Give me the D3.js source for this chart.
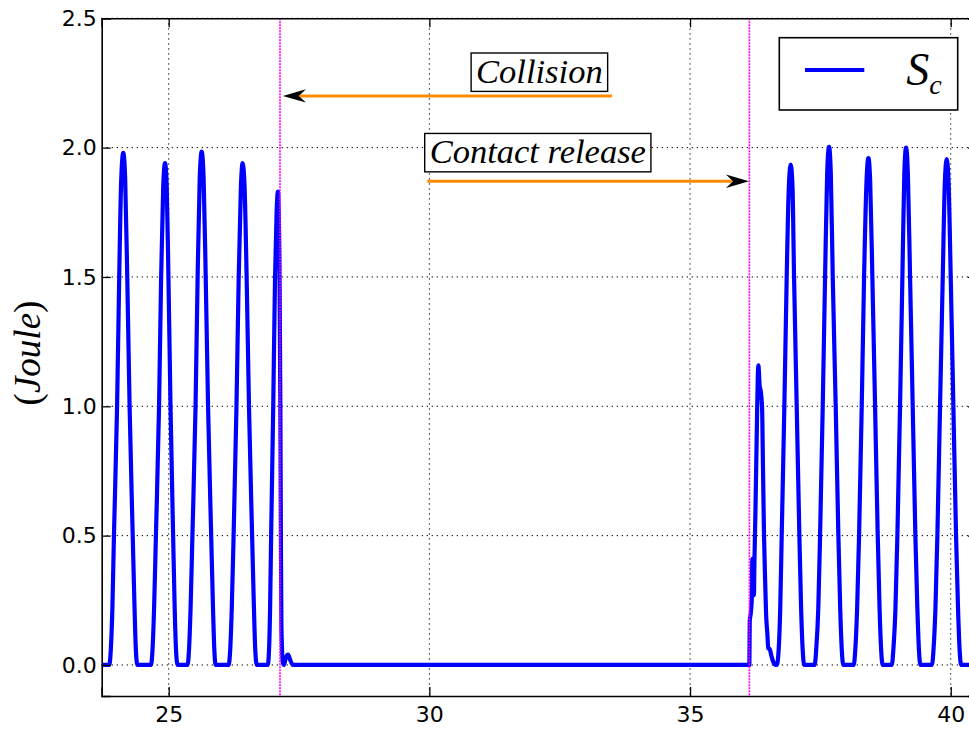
<!DOCTYPE html>
<html>
<head>
<meta charset="utf-8">
<script src="https://cdn.jsdelivr.net/npm/d3@7"></script>
<style>
  body { margin: 0; background: #fff; }
  svg { display: block; }
</style>
</head>
<body>
<div class="chart_view"></div>
<script>
// axis ticks
var xTicks = [25, 30, 35, 40];
var yTicks = [0, 0.5, 1.0, 1.5, 2.0, 2.5];

// time of collision and of contact release (magenta markers)
var eventTimes = [27.135, 36.138];

// S_c energy, [time, joule]
var beforeCollision = [
  [23.715, 0], [23.86, 0], [23.89, 0.06], [23.92, 0.22], [23.95, 0.5], [24.01, 1.0], [24.051, 1.5], [24.09, 1.88],
  [24.129, 1.98], [24.165, 1.88], [24.205, 1.5], [24.25, 1.0], [24.31, 0.5], [24.345, 0.22], [24.37, 0.06], [24.40, 0],
  [24.66, 0], [24.69, 0.06], [24.72, 0.22], [24.755, 0.5], [24.815, 1.0], [24.855, 1.5], [24.895, 1.85],
  [24.93, 1.94], [24.962, 1.85], [24.995, 1.5], [25.035, 1.0], [25.085, 0.5], [25.115, 0.22], [25.14, 0.06], [25.17, 0],
  [25.36, 0], [25.39, 0.06], [25.42, 0.22], [25.455, 0.5], [25.515, 1.0], [25.555, 1.5], [25.595, 1.88],
  [25.633, 1.985], [25.67, 1.88], [25.71, 1.5], [25.755, 1.0], [25.815, 0.5], [25.85, 0.22], [25.875, 0.06], [25.90, 0],
  [26.15, 0], [26.18, 0.06], [26.21, 0.22], [26.245, 0.5], [26.30, 1.0], [26.343, 1.5], [26.385, 1.85],
  [26.419, 1.94], [26.455, 1.85], [26.495, 1.5], [26.54, 1.0], [26.60, 0.5], [26.635, 0.22], [26.66, 0.06], [26.69, 0],
  [26.90, 0], [26.925, 0.06], [26.945, 0.22], [26.965, 0.5], [27.005, 1.0], [27.04, 1.5], [27.07, 1.75],
  [27.095, 1.83], [27.125, 1.55], [27.142, 1.0], [27.152, 0.5], [27.162, 0.15], [27.19, 0.01], [27.21, 0],
  [27.25, 0.03], [27.29, 0.04], [27.33, 0.02], [27.38, 0]
];
var freeFlight = [[27.38, 0], [36.138, 0]];
var afterRelease = [
  [36.138, 0], [36.145, 0.17], [36.165, 0.2], [36.185, 0.26], [36.195, 0.41], [36.2, 0.27], [36.225, 0.27],
  [36.235, 0.4], [36.255, 0.6], [36.28, 0.9], [36.30, 1.12], [36.311, 1.158], [36.322, 1.13], [36.335, 1.08],
  [36.355, 1.06], [36.381, 1.0], [36.40, 0.75], [36.419, 0.5], [36.44, 0.33], [36.458, 0.2], [36.483, 0.12],
  [36.50, 0.065], [36.53, 0.06], [36.56, 0.035], [36.60, 0.01], [36.64, 0], [36.665, 0],
  [36.70, 0.06], [36.73, 0.22], [36.758, 0.5], [36.809, 1.0], [36.854, 1.5], [36.895, 1.85],
  [36.931, 1.934], [36.965, 1.85], [36.995, 1.5], [37.046, 1.0], [37.097, 0.5], [37.13, 0.22], [37.16, 0.06], [37.19, 0],
  [37.39, 0], [37.42, 0.06], [37.46, 0.22], [37.494, 0.5], [37.545, 1.0], [37.59, 1.5], [37.63, 1.9],
  [37.666, 2.003], [37.70, 1.9], [37.737, 1.5], [37.794, 1.0], [37.845, 0.5], [37.88, 0.22], [37.91, 0.06], [37.94, 0],
  [38.14, 0], [38.17, 0.06], [38.205, 0.22], [38.242, 0.5], [38.293, 1.0], [38.338, 1.5], [38.385, 1.87],
  [38.421, 1.96], [38.455, 1.87], [38.497, 1.5], [38.549, 1.0], [38.60, 0.5], [38.635, 0.22], [38.665, 0.06], [38.695, 0],
  [38.87, 0], [38.90, 0.06], [38.94, 0.22], [38.977, 0.5], [39.028, 1.0], [39.073, 1.5], [39.11, 1.9],
  [39.143, 2.0], [39.178, 1.9], [39.22, 1.5], [39.271, 1.0], [39.322, 0.5], [39.36, 0.22], [39.39, 0.06], [39.42, 0],
  [39.64, 0], [39.67, 0.06], [39.707, 0.22], [39.744, 0.5], [39.795, 1.0], [39.847, 1.5], [39.888, 1.87],
  [39.923, 1.956], [39.958, 1.87], [40.0, 1.5], [40.051, 1.0], [40.102, 0.5], [40.14, 0.22], [40.17, 0.06], [40.20, 0],
  [40.504, 0]
];

// annotations: label, label anchor (centre x, baseline y), arrow tail and tip
var noteLabels = ["Collision", "Contact release"];
var noteAnchors = [[32.11, 2.251], [32.08, 1.94]];
var arrowTails = [[33.5, 2.2], [29.96, 1.87]];
var arrowTips = [[27.19, 2.2], [36.13, 1.87]];

var width = 969,
  height = 729;
var margin = { top: 18.3, right: -8, bottom: 33, left: 101.7 };
var innerW = width - margin.left - margin.right,
  innerH = height - margin.top - margin.bottom;

var svg = d3
  .select(".chart_view")
  .append("svg")
  .attr("width", width)
  .attr("height", height);

var x = d3.scaleLinear().domain([23.715, 40.504]).range([0, innerW]);
var y = d3.scaleLinear().domain([-0.12, 2.5]).range([innerH, 0]);

var g = svg
  .append("g")
  .attr("transform", "translate(" + margin.left + "," + margin.top + ")");

g.append("clipPath")
  .attr("id", "plot-clip")
  .append("rect")
  .attr("width", innerW)
  .attr("height", innerH);

// dotted grid
g.selectAll(".vgrid")
  .data(xTicks)
  .enter()
  .append("line")
  .attr("class", "vgrid")
  .attr("x1", function (d) { return x(d); })
  .attr("x2", function (d) { return x(d); })
  .attr("y1", 0)
  .attr("y2", innerH)
  .style("stroke", "#000")
  .style("stroke-width", 1)
  .style("stroke-dasharray", "1.3,3.7");
g.selectAll(".hgrid")
  .data(yTicks)
  .enter()
  .append("line")
  .attr("class", "hgrid")
  .attr("x1", 0)
  .attr("x2", innerW)
  .attr("y1", function (d) { return y(d); })
  .attr("y2", function (d) { return y(d); })
  .style("stroke", "#000")
  .style("stroke-width", 1)
  .style("stroke-dasharray", "1.3,3.7");

var line = d3
  .line()
  .x(function (d) { return x(d[0]); })
  .y(function (d) { return y(d[1]); })
  .curve(d3.curveMonotoneX);

var series = beforeCollision.concat(freeFlight.slice(1), afterRelease.slice(1));

g.append("path")
  .datum(series)
  .attr("clip-path", "url(#plot-clip)")
  .attr("d", line)
  .style("fill", "none")
  .style("stroke", "#0000ff")
  .style("stroke-width", 4.2)
  .style("stroke-linejoin", "round");

// event markers
g.selectAll(".event")
  .data(eventTimes)
  .enter()
  .append("line")
  .attr("class", "event")
  .attr("x1", function (d) { return x(d); })
  .attr("x2", function (d) { return x(d); })
  .attr("y1", 0)
  .attr("y2", innerH)
  .style("stroke", "#ff00ff")
  .style("stroke-width", 1.6)
  .style("stroke-dasharray", "2,1");

// axes with inward ticks
var tickFont = "'DejaVu Sans', sans-serif";
var xAxis = g
  .append("g")
  .attr("transform", "translate(0," + innerH + ")")
  .call(d3.axisBottom(x).tickValues(xTicks).tickFormat(d3.format("d")).tickSize(-9).tickPadding(10.4));
var yAxis = g
  .append("g")
  .call(d3.axisLeft(y).tickValues(yTicks).tickFormat(d3.format(".1f")).tickSize(-9).tickPadding(5));
var topAxis = g
  .append("g")
  .call(d3.axisTop(x).tickValues(xTicks).tickFormat("").tickSize(-9));
var rightAxis = g
  .append("g")
  .attr("transform", "translate(" + innerW + ",0)")
  .call(d3.axisRight(y).tickValues(yTicks).tickFormat("").tickSize(-9));

[xAxis, yAxis, topAxis, rightAxis].forEach(function (a) {
  a.selectAll(".domain").style("stroke", "#000").style("stroke-width", 1.6);
  a.selectAll(".tick line").style("stroke", "#000").style("stroke-width", 1.3);
  a.selectAll(".tick text")
    .style("font-family", tickFont)
    .style("font-size", "22px")
    .style("fill", "#000");
});

// y label, upright parentheses round an italic word
var yLabel = svg
  .append("text")
  .attr("transform", "translate(40,353) rotate(-90)")
  .attr("text-anchor", "middle")
  .style("font-family", "'Liberation Serif', serif")
  .style("font-size", "37px");
yLabel.append("tspan").text("(");
yLabel.append("tspan").style("font-style", "italic").text("Joule");
yLabel.append("tspan").text(")");

// arrows
var orange = "#ff8c00";
arrowTips.forEach(function (tip, i) {
  var tx = x(tip[0]),
    ty = y(tip[1]),
    sx = x(arrowTails[i][0]),
    dir = tx > sx ? 1 : -1;
  g.append("line")
    .attr("x1", sx)
    .attr("x2", tx - dir * 17)
    .attr("y1", ty)
    .attr("y2", ty)
    .style("stroke", orange)
    .style("stroke-width", 3);
  g.append("path")
    .attr(
      "d",
      "M" + tx + "," + ty +
        "L" + (tx - dir * 23) + "," + (ty - 6.7) +
        "L" + (tx - dir * 16) + "," + ty +
        "L" + (tx - dir * 23) + "," + (ty + 6.7) + "Z"
    )
    .style("fill", "#000");
});

// boxed labels
noteLabels.forEach(function (label, i) {
  var cx = x(noteAnchors[i][0]),
    by = y(noteAnchors[i][1]);
  var box = g.append("rect");
  var t = g
    .append("text")
    .attr("x", cx)
    .attr("y", by)
    .attr("text-anchor", "middle")
    .style("font-family", "'Liberation Serif', serif")
    .style("font-style", "italic")
    .style("font-size", "34.5px")
    .text(label);
  var bb = t.node().getBBox();
  box
    .attr("x", bb.x - 5)
    .attr("y", by - 29.7)
    .attr("width", bb.width + 10)
    .attr("height", 38.4)
    .style("fill", "#fff")
    .style("stroke", "#000")
    .style("stroke-width", 1.4);
});

// legend
var legend = g.append("g").attr("transform", "translate(" + (innerW - 197.7) + ",19.4)");
legend
  .append("rect")
  .attr("width", 178.4)
  .attr("height", 72.3)
  .style("fill", "#fff")
  .style("stroke", "#000")
  .style("stroke-width", 1.6);
legend
  .append("line")
  .attr("x1", 25.7)
  .attr("x2", 85)
  .attr("y1", 32.3)
  .attr("y2", 32.3)
  .style("stroke", "#0000ff")
  .style("stroke-width", 4);
var legText = legend
  .append("text")
  .attr("x", 127)
  .attr("y", 47.5)
  .style("font-family", "'Liberation Serif', serif")
  .style("font-style", "italic")
  .style("font-size", "46px");
legText.append("tspan").text("S");
legText.append("tspan").attr("dy", 9).style("font-size", "28px").text("c");
</script>
</body>
</html>
